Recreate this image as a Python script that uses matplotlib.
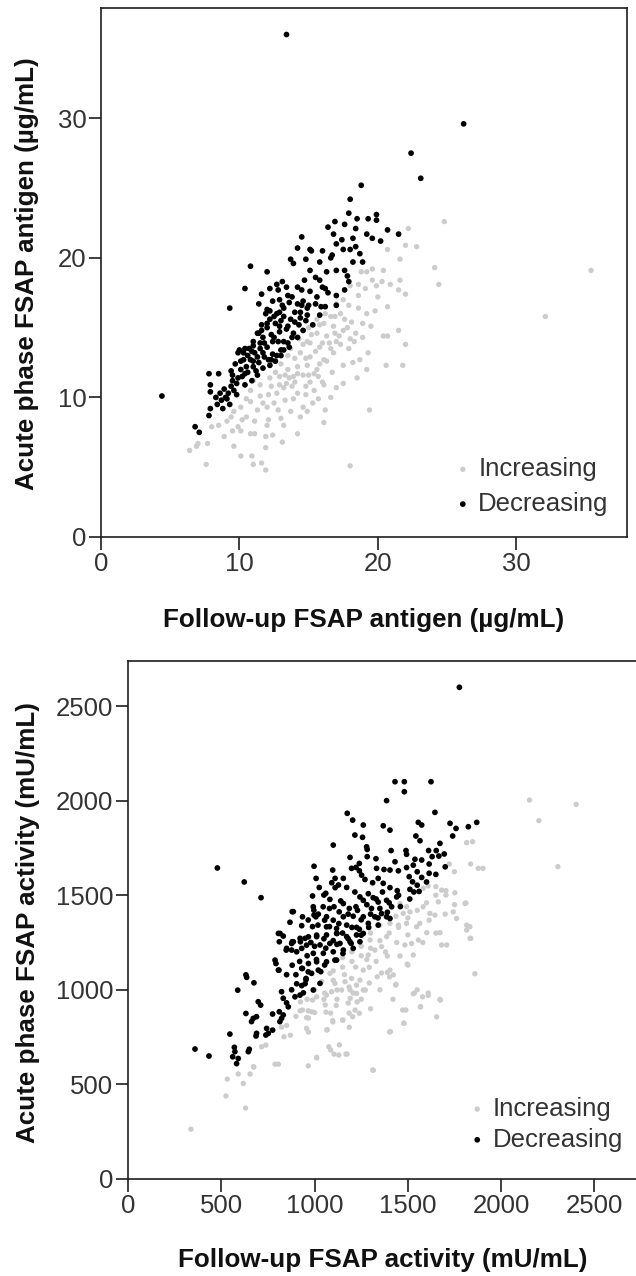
# scatter of acute phase vs follow-up FSAP antigen and activity (two stacked panels)
import numpy as np
import matplotlib
matplotlib.use('Agg')
import matplotlib.pyplot as plt
import matplotlib as mpl

## data
# top panel: antigen (ug/mL), pairs of (follow-up, acute phase)
increasing_antigen = [
    (22.2, 22.1), (24.8, 22.6), (22.0, 20.9), (22.8, 20.8), (20.7, 20.6), (21.6, 19.9), (24.1, 19.3),
    (24.4, 18.1), (35.4, 19.1), (18.8, 19.0), (19.2, 19.0), (19.6, 19.2), (20.4, 19.1), (18.6, 18.1),
    (19.6, 18.4), (20.3, 18.3), (20.9, 18.1), (21.6, 18.4), (22.0, 17.4), (20.0, 17.2), (17.5, 17.0),
    (17.0, 16.7), (21.5, 17.7), (20.7, 16.5), (32.1, 15.8),
    (19.2, 16.0), (19.8, 16.2), (18.1, 15.4), (18.9, 15.3), (18.4, 14.6), (20.4, 14.4), (20.7, 14.4),
    (21.5, 14.8), (22.0, 13.8), (19.3, 13.2), (18.2, 12.5), (18.7, 12.7), (19.2, 12.0), (20.6, 12.3),
    (21.8, 12.3), (17.0, 10.7), (16.0, 11.1), (16.1, 10.9), (14.8, 10.8), (14.2, 10.3), (14.6, 9.3),
    (16.2, 9.1), (19.4, 9.1), (16.1, 8.2), (14.2, 7.4), (18.0, 5.1),
    (16.6, 15.8), (17.3, 16.0), (16.1, 15.3), (16.8, 15.1), (17.5, 14.8), (15.6, 14.6), (16.3, 14.4),
    (17.0, 14.0), (15.1, 13.9), (15.8, 13.6), (16.6, 13.5), (17.3, 13.8), (14.4, 13.2), (15.1, 12.9),
    (16.1, 12.7), (16.8, 13.2), (14.2, 12.2), (14.9, 12.3), (15.6, 12.0), (16.3, 12.6), (13.9, 11.5),
    (14.6, 11.6), (15.4, 11.7), (15.1, 11.1), (13.8, 10.8),
    (8.0, 7.9), (8.5, 8.0), (6.4, 6.2), (6.9, 6.5), (7.0, 6.7), (7.7, 6.7), (7.6, 5.2), (9.6, 6.5),
    (10.1, 7.6), (10.8, 7.4), (11.1, 7.4), (10.1, 5.8), (10.9, 5.8), (11.0, 5.2), (11.6, 5.3),
    (11.9, 4.8), (11.9, 6.4), (13.1, 6.8), (12.0, 8.0), (12.1, 8.4), (11.1, 8.3), (10.5, 8.6),
    (10.2, 8.4), (9.1, 8.3), (9.4, 8.6), (10.1, 9.3), (10.8, 9.7), (11.5, 10.1), (12.1, 10.2),
    (12.7, 10.3), (13.2, 10.7), (13.4, 11.0), (12.9, 11.5), (12.2, 11.4), (11.5, 10.9), (10.8, 10.5),
    (12.0, 9.3), (12.5, 9.6), (12.8, 9.1), (11.3, 9.1),
    (13.5, 12.0), (14.0, 12.8), (14.6, 13.8), (15.2, 14.5), (15.8, 15.2), (16.2, 16.0), (13.0, 12.4),
    (12.6, 11.8), (13.7, 13.5), (14.3, 14.2), (15.0, 15.0), (13.3, 9.8), (13.9, 9.9), (14.8, 10.2),
    (15.4, 10.5), (15.7, 11.5), (9.6, 9.0), (9.9, 7.9), (13.0, 8.5), (13.7, 9.0), (15.3, 9.6),
    (16.7, 11.8), (17.5, 12.3), (17.9, 13.5), (18.3, 14.0), (17.8, 15.0), (8.9, 7.2), (12.4, 7.3),
    (14.4, 8.6),
    (12.3, 10.8), (12.9, 10.9), (13.6, 11.4), (14.2, 11.7), (14.8, 12.8), (15.5, 13.3), (16.0, 13.9),
    (16.9, 14.6), (17.6, 15.6), (18.6, 16.4), (17.9, 16.6), (13.3, 11.6), (14.0, 11.1), (15.0, 11.6),
    (15.8, 12.4), (16.5, 13.9), (17.2, 14.4), (18.0, 14.2), (18.9, 14.3), (19.5, 15.1), (17.5, 11.0),
    (18.5, 11.4), (16.6, 10.0), (15.7, 9.9), (11.7, 9.6), (10.5, 9.9), (11.0, 11.2), (12.5, 12.6),
    (13.5, 13.0), (14.9, 14.0), (15.6, 15.6), (16.9, 15.8), (13.2, 8.0), (14.9, 9.0), (9.5, 7.6),
    (11.9, 7.2), (18.6, 17.3), (19.1, 17.8), (19.9, 18.0), (18.0, 18.0),
]
decreasing_antigen = [
    (13.4, 36.0), (26.2, 29.6), (22.4, 27.5), (23.1, 25.7), (18.8, 25.2), (18.0, 24.2), (17.9, 23.2),
    (18.5, 22.8), (19.3, 22.8), (19.9, 23.1), (19.9, 22.7), (16.9, 22.6), (16.4, 22.2), (17.6, 22.4),
    (18.4, 22.1), (20.7, 22.0), (21.5, 21.7), (19.2, 21.7), (19.6, 21.4), (20.2, 21.2), (14.5, 21.5),
    (14.2, 20.7), (15.1, 20.6), (15.2, 20.5), (16.0, 20.5), (17.0, 21.0), (17.4, 21.3), (18.2, 21.4),
    (17.5, 20.6), (18.0, 20.6), (18.4, 20.8), (18.7, 20.3), (16.6, 20.0), (16.7, 20.2), (18.2, 19.7),
    (18.9, 19.7), (13.7, 19.9), (13.9, 19.6), (17.0, 19.1), (17.6, 19.1), (17.8, 18.7), (17.9, 18.3),
    (15.1, 19.1), (15.5, 18.6), (15.8, 18.4), (17.6, 17.7), (17.0, 17.3), (16.2, 17.8), (16.4, 17.5),
    (14.2, 17.9), (14.5, 17.7), (15.1, 17.6), (13.8, 17.2), (14.2, 16.7), (14.6, 16.9), (15.0, 16.6),
    (15.5, 16.7), (15.9, 16.5), (17.0, 16.6),
    (10.8, 19.4), (12.0, 19.0), (10.4, 17.8), (9.3, 16.4), (12.2, 17.8), (12.7, 18.1), (13.1, 18.3),
    (13.4, 17.9), (12.8, 17.7), (12.0, 16.3),
    (13.2, 16.4), (13.6, 16.8), (14.9, 16.4), (16.2, 16.5), (11.9, 16.0), (12.9, 17.0), (13.1, 16.6),
    (14.4, 16.1), (14.0, 16.1), (15.8, 15.9), (15.3, 15.2), (14.4, 15.7), (14.6, 14.8), (14.2, 14.3),
    (13.2, 15.8), (13.5, 15.1), (12.9, 14.7), (13.8, 14.3), (13.2, 14.0), (12.2, 15.6), (12.0, 15.0),
    (12.5, 14.3), (11.8, 13.9), (11.4, 14.6), (11.0, 14.0), (10.7, 13.5), (10.3, 13.2), (10.0, 13.4),
    (11.1, 13.2), (11.8, 12.9), (11.4, 12.5), (12.3, 12.7), (12.7, 13.0), (13.2, 13.4), (13.6, 13.6),
    (12.0, 13.6), (12.4, 13.1), (12.8, 14.0), (13.0, 13.0), (12.3, 14.5), (13.4, 14.9), (14.0, 15.4),
    (14.8, 15.5), (12.6, 15.3), (11.6, 15.2), (13.0, 15.5),
    (7.8, 11.7), (8.5, 11.7), (7.9, 10.9), (7.9, 10.4), (6.8, 7.9), (7.1, 7.5), (4.4, 10.1), (7.8, 8.7),
    (7.9, 9.2), (8.4, 9.5), (8.7, 9.8), (8.8, 9.2), (9.3, 9.5), (9.2, 10.3), (9.6, 10.5), (9.8, 11.0),
    (9.9, 11.4), (10.1, 12.0), (10.5, 12.2), (10.8, 12.7), (11.3, 12.9), (11.7, 13.2), (12.1, 12.7),
    (11.5, 13.9), (11.0, 13.7), (10.3, 12.7), (9.9, 13.2), (10.4, 13.5), (11.3, 14.6), (11.6, 14.8),
    (12.0, 15.3), (12.5, 15.8), (12.7, 16.0), (12.2, 16.2),
    (9.0, 10.0), (8.3, 10.0), (9.5, 11.2), (10.2, 11.5), (10.6, 11.8), (11.0, 12.2), (9.7, 12.4),
    (9.4, 11.9), (10.6, 13.0), (11.2, 11.9),
    (9.4, 10.8), (9.8, 10.2), (10.4, 10.9), (10.9, 11.2), (11.3, 11.6), (11.7, 12.1), (12.2, 12.3),
    (12.6, 12.6), (13.0, 13.4), (13.5, 13.9), (13.9, 14.6), (14.3, 15.2), (14.9, 15.9), (10.1, 12.6),
    (10.9, 13.3), (11.5, 13.5), (12.4, 14.0), (12.9, 15.1), (13.7, 15.6), (14.5, 16.6), (15.6, 17.2),
    (16.0, 17.9), (11.7, 14.3), (11.0, 12.6), (10.4, 11.7), (9.5, 11.6), (8.9, 10.6), (8.6, 10.3),
    (9.1, 9.9), (12.9, 16.1), (13.5, 17.3), (11.4, 16.7), (11.6, 17.4), (12.4, 16.9), (14.7, 18.4),
    (16.3, 19.0), (15.8, 19.7), (14.8, 19.9), (16.8, 21.7),
]

# bottom panel: activity (mU/mL), pairs of (follow-up, acute phase)
increasing_activity = [
    (2152, 2003), (2402, 1980), (2202, 1894), (2304, 1651), (1902, 1642), (1811, 1459), (1826, 1334),
    (1837, 1272), (1859, 1085), (1815, 1778), (1847, 1783),
    (1722, 1665), (1749, 1624), (1836, 1665), (1877, 1642), (1582, 1536), (1609, 1549), (1650, 1545),
    (1681, 1527), (1704, 1524), (1663, 1465), (1704, 1501), (1752, 1513), (1582, 1439), (1618, 1404),
    (1645, 1395), (1614, 1368), (1564, 1351), (1806, 1456), (1815, 1342), (1833, 1333), (1458, 1456),
    (1493, 1439), (1511, 1412), (1475, 1404), (1436, 1389), (1404, 1351), (1449, 1342), (1493, 1351),
    (1350, 1342), (1547, 1333), (1743, 1412), (1761, 1377),
    (525, 439), (532, 528), (591, 555), (618, 505), (654, 555), (672, 594), (716, 699), (739, 708),
    (788, 607), (806, 607), (966, 598), (823, 803), (850, 812), (836, 752), (922, 889), (957, 853),
    (966, 889), (957, 796),
    (337, 263), (630, 375), (674, 591), (1011, 640), (1130, 655), (1174, 661), (1315, 575), (1076, 699),
    (1402, 777), (1478, 824), (1567, 909), (1535, 983), (1654, 857), (1489, 893), (1609, 983),
    (1674, 946), (1435, 1025), (1500, 1131), (967, 777), (1065, 788), (1098, 830), (1185, 877),
    (1217, 893), (1207, 983), (1152, 840), (1228, 936), (967, 851), (935, 893), (924, 936), (989, 946),
    (1054, 983), (1120, 999), (1185, 1015), (1272, 999), (1293, 1036), (1359, 1089), (1402, 1068),
    (1311, 576), (1011, 643), (1086, 682), (1104, 660), (1133, 709), (1168, 660), (1068, 789),
    (1186, 802), (1097, 837), (1150, 840), (1204, 858), (1240, 876), (1061, 882), (1086, 877),
    (1057, 920), (1116, 917), (1191, 955), (1225, 981), (1407, 779), (1479, 823), (1472, 893),
    (1568, 911), (1529, 979), (1550, 1000), (1579, 963), (1609, 970), (1672, 949), (1436, 1029),
    (1390, 1092), (1404, 1104), (1422, 1079), (1458, 1179), (1497, 1136), (1529, 1184), (1484, 1237),
    (1520, 1245), (1556, 1263), (1601, 1302), (1672, 1302), (1681, 1237), (1708, 1237), (1815, 1316),
    (1833, 1272), (1390, 1179), (1336, 1069), (1293, 1119), (1261, 1104), (1243, 1051), (1359, 1228),
    (1386, 1281), (1297, 1263), (1323, 1210), (1288, 1184), (1145, 999), (1091, 990), (1064, 972),
    (1011, 963), (984, 884), (1082, 1087), (1038, 1043), (1109, 1034), (1163, 1043), (1198, 1060),
    (1225, 1025), (1261, 999), (1190, 999),
    (1100, 1100), (1150, 1120), (1200, 1150), (1250, 1180), (1300, 1220), (1350, 1260), (1400, 1300),
    (1450, 1330), (1500, 1380), (1550, 1420), (1600, 1460), (1650, 1500), (1100, 1050), (1160, 1080),
    (1220, 1120), (1280, 1160), (1330, 1150), (1380, 1200), (1440, 1250), (1500, 1290), (1050, 950),
    (1120, 950), (1180, 930), (1250, 950), (1300, 900), (1350, 1000), (1420, 950), (1000, 1000),
    (960, 950), (900, 860), (1300, 1300), (1250, 1230), (1200, 1200), (1150, 1170), (1700, 1400),
    (1750, 1450), (1650, 1300), (1580, 1250), (1000, 880), (870, 760),
]
decreasing_activity = [
    (1776, 2599), (479, 1644), (623, 1570), (713, 1487), (886, 1413), (868, 1357), (931, 1339), (966, 1369),
    (1431, 2100), (1481, 2100), (1481, 2047), (1624, 2100), (1386, 2000), (1645, 1938), (1175, 1933),
    (1204, 1897), (1261, 1871), (1368, 1867), (1404, 1844), (1556, 1885), (1574, 1871), (1726, 1880),
    (1758, 1853), (1824, 1862), (1869, 1885), (1740, 1813), (1216, 1818), (1257, 1806), (1543, 1813),
    (1565, 1788), (1100, 1765), (1279, 1756), (1282, 1742), (1672, 1774), (1410, 1736), (1490, 1736),
    (1493, 1716), (1611, 1736), (1652, 1736), (1630, 1704), (1666, 1707), (1695, 1718), (1190, 1700),
    (1282, 1704), (1329, 1693), (1538, 1690), (1574, 1686), (1240, 1668), (1222, 1647), (1431, 1677),
    (997, 1653), (1614, 1665), (1198, 1642), (1240, 1629), (1332, 1642), (1372, 1636), (1404, 1633),
    (1449, 1629), (1493, 1646), (1529, 1659), (1550, 1624), (1614, 1616), (1008, 1589), (1097, 1633),
    (1110, 1589), (1128, 1554), (1092, 1566), (1154, 1589), (1252, 1606), (1270, 1583), (1311, 1566),
    (1341, 1589), (1368, 1563), (1404, 1540), (1443, 1524), (1507, 1598), (1525, 1571), (1550, 1553),
    (1574, 1594), (1511, 1531), (1532, 1517), (1025, 1541), (1050, 1501), (1082, 1478), (989, 1496),
    (993, 1439), (997, 1395), (1172, 1541), (1216, 1517), (1243, 1491), (1261, 1473), (1288, 1508),
    (1314, 1487), (1341, 1464), (1364, 1517), (1386, 1473), (1413, 1439), (1440, 1491), (1154, 1456),
    (1186, 1430), (1222, 1439), (1132, 1412), (1104, 1439), (1046, 1439), (1064, 1386), (1100, 1368),
    (1154, 1386), (1207, 1389), (1261, 1386), (1305, 1430), (1323, 1386), (1359, 1403), (1404, 1377),
    (1018, 1342), (1064, 1333), (1118, 1324), (1172, 1342), (1225, 1330), (1288, 1351), (1341, 1342),
    (1386, 1386),
    (359, 687), (434, 650), (546, 766), (570, 696), (573, 673), (561, 646), (591, 637), (582, 610),
    (645, 673), (650, 686), (632, 1079), (636, 1066), (675, 1037), (588, 998), (698, 937), (711, 919),
    (632, 875), (671, 849), (689, 858), (662, 832), (689, 770), (686, 756), (743, 796), (752, 770),
    (739, 761), (775, 787), (775, 872), (811, 884), (823, 849), (832, 867), (814, 832), (823, 990),
    (832, 955), (850, 931), (859, 910), (877, 1000), (895, 963), (922, 972), (940, 984), (904, 1032),
    (931, 1022), (949, 1032), (954, 1053), (788, 1157), (806, 1104), (931, 1113), (954, 1060),
    (966, 1095), (806, 1298), (832, 1284), (811, 1254), (850, 1219), (877, 1210), (886, 1254),
    (904, 1201), (931, 1219), (949, 1272), (957, 1236), (922, 1272), (877, 1245),
    (1011, 1281), (1064, 1290), (1118, 1298), (1172, 1281), (1225, 1290), (1261, 1298), (1029, 1237),
    (1082, 1245), (1136, 1245), (1190, 1254), (1243, 1254), (993, 1193), (1047, 1193), (1100, 1201),
    (1154, 1210), (1207, 1219), (1011, 1148), (1064, 1148), (1118, 1157), (1020, 1104), (984, 1087),
    (1029, 1034), (993, 999),
    (815, 1298), (848, 1210), (880, 1254), (924, 1254), (967, 1280), (1011, 1289), (989, 1334),
    (1080, 1334), (1120, 1298), (1007, 1386), (1054, 1368), (880, 1413), (935, 1386), (996, 1421),
    (793, 1139), (809, 1104), (935, 1113), (967, 1139), (1033, 1096), (1054, 1131), (1109, 1157),
    (1152, 1192), (1196, 1245), (1250, 1289),
    (1050, 1270), (1100, 1260), (1150, 1300), (1200, 1330), (1250, 1370), (1300, 1400), (1350, 1430),
    (1400, 1460), (1450, 1500), (1000, 1230), (1060, 1220), (1120, 1240), (1180, 1270), (1240, 1320),
    (1290, 1330), (1340, 1380), (1390, 1410), (1460, 1440), (1510, 1480), (1560, 1520), (1600, 1570),
    (1650, 1610), (1700, 1650), (960, 1180), (1010, 1160), (920, 1150), (880, 1130), (850, 1080),
    (900, 1080), (980, 1250), (1130, 1350), (1180, 1400), (1230, 1420), (1280, 1450), (1330, 1480),
    (1020, 1400), (1080, 1430), (1140, 1470), (1060, 1510), (1110, 1540),
]

legend_labels = ['Increasing', 'Decreasing']

## plot stuff
mpl.rcParams['font.family'] = ['Liberation Sans', 'DejaVu Sans']
mpl.rcParams['font.size'] = 18.5

col_inc, col_dec = '#cccccc', '#000000'
size_inc, size_dec = 15, 17
frame_col, text_col = '#1e1e1e', '#333333'

fig = plt.figure(figsize=(6.36, 12.76), dpi=100)
W, H = 636.0, 1276.0
ax1 = fig.add_axes([101 / W, (H - 537) / H, 526 / W, 529 / H])
ax2 = fig.add_axes([128 / W, (H - 1179) / H, 520 / W, 518 / H])

panels = [
    (ax1, increasing_antigen, decreasing_antigen, 38.0, 37.9, [0, 10, 20, 30],
     'Follow-up FSAP antigen (\u00b5g/mL)', 'Acute phase FSAP antigen (\u00b5g/mL)',
     (0.5, -0.157), (-0.141, 0.497), (0.965, 0.040), 0.42),
    (ax2, increasing_activity, decreasing_activity, 2787, 2738, [0, 500, 1000, 1500, 2000, 2500],
     'Follow-up FSAP activity (mU/mL)', 'Acute phase FSAP activity (mU/mL)',
     (0.49, -0.156), (-0.192, 0.496), (0.952, 0.053), 0.26),
]

for ax, inc, dec, xmax, ymax, ticks, xlab, ylab, xl_pos, yl_pos, leg_pos, leg_sp in panels:
    inc = np.array(inc, dtype=float)
    dec = np.array(dec, dtype=float)
    h1 = ax.scatter(inc[:, 0], inc[:, 1], s=size_inc, color=col_inc, edgecolors='none', zorder=2)
    h2 = ax.scatter(dec[:, 0], dec[:, 1], s=size_dec, color=col_dec, edgecolors='none', zorder=3)

    ax.set_xlim(0, xmax)
    ax.set_ylim(0, ymax)
    ax.set_xticks(ticks)
    ax.set_yticks(ticks)
    ax.tick_params(direction='out', length=9, width=1.2, color=frame_col, labelcolor=text_col,
                   labelsize=18.5, pad=1.5)
    for sp in ax.spines.values():
        sp.set_linewidth(1.2)
        sp.set_color(frame_col)

    ax.set_xlabel(xlab, fontweight='bold', fontsize=18.7, color='#111111')
    ax.set_ylabel(ylab, fontweight='bold', fontsize=18.7, color='#111111')
    ax.xaxis.set_label_coords(*xl_pos)
    ax.yaxis.set_label_coords(*yl_pos)
    ax.xaxis.label.set_va('center')
    ax.yaxis.label.set_va('center')

    ax.legend([h1, h2], legend_labels, loc='lower right', bbox_to_anchor=leg_pos, frameon=False,
              fontsize=18.5, labelcolor=text_col, handlelength=0.5, handletextpad=0.35,
              labelspacing=leg_sp, borderpad=0, borderaxespad=0, scatterpoints=1)

fig.savefig('out.png', dpi=100)
